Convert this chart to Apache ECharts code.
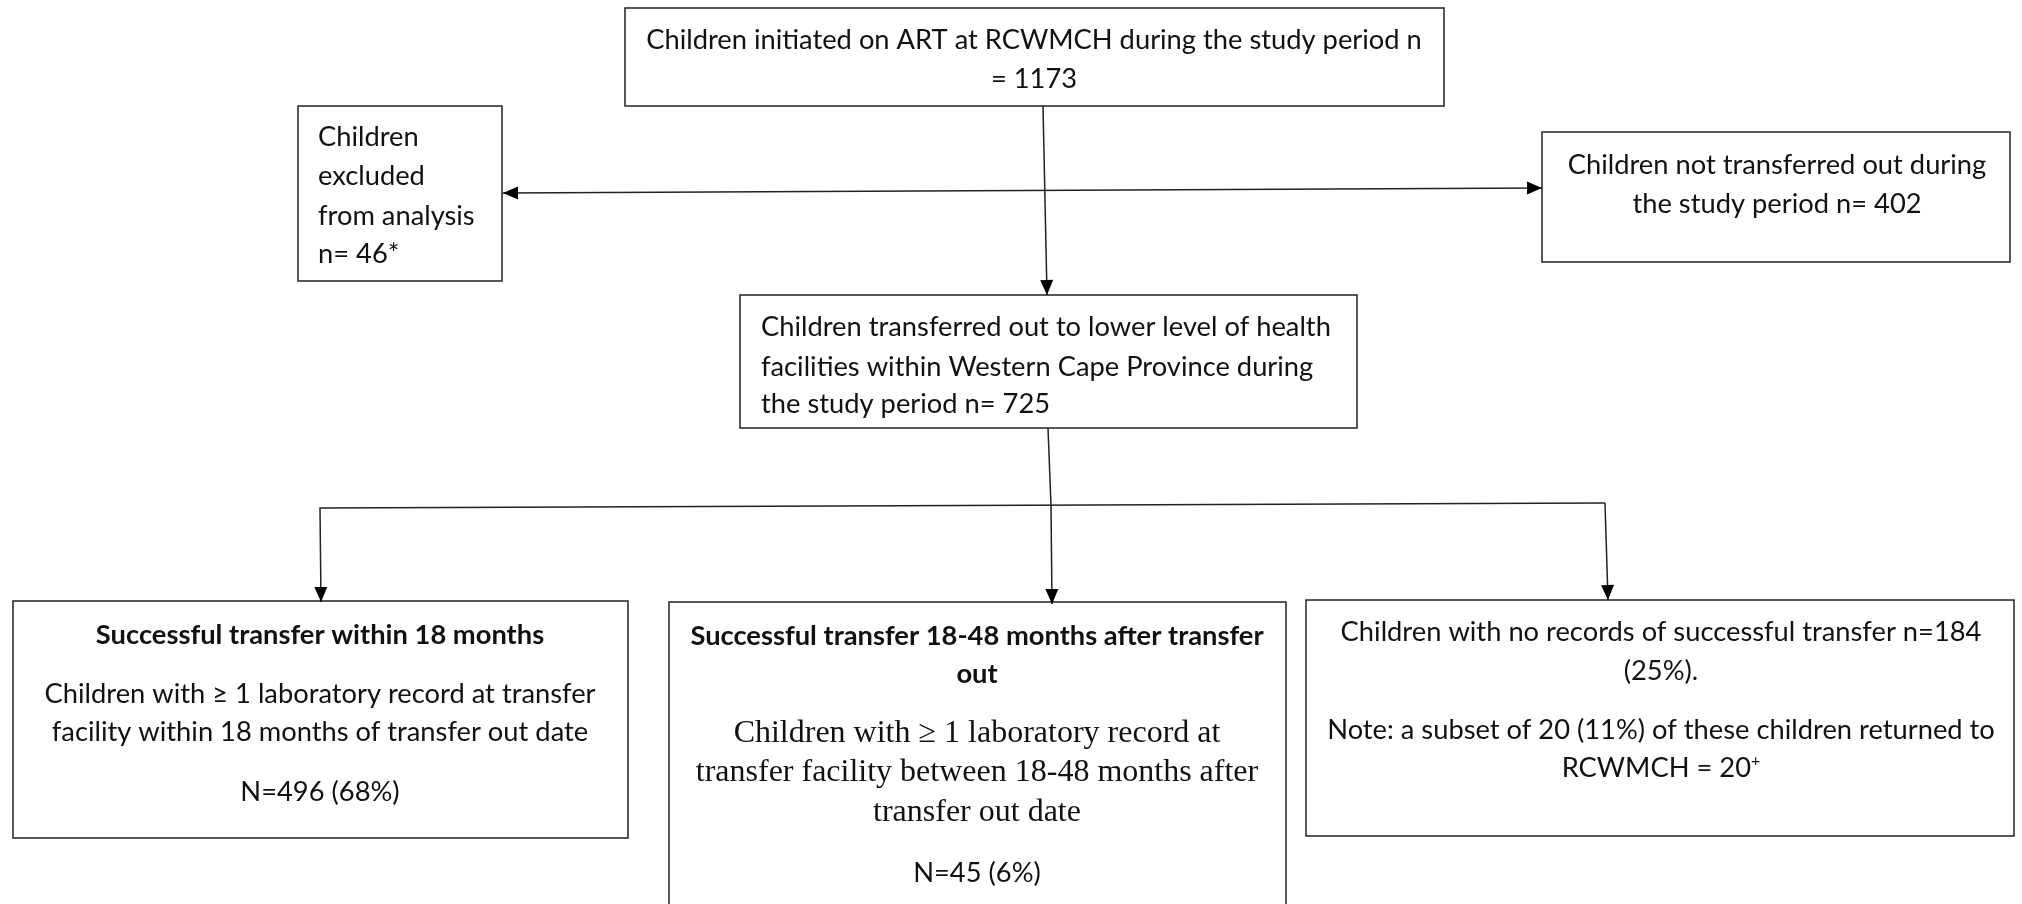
<!DOCTYPE html>
<html>
<head>
<meta charset="utf-8">
<script src="https://cdn.jsdelivr.net/npm/echarts@6/dist/echarts.min.js"></script>
<style>
  html, body { margin: 0; background: #fff; }
  #chart { width: 2022px; height: 904px; }
</style>
</head>
<body>
<div id="chart"></div>
<script>
// box texts (one entry per printed line)
const initiatedLines = ['Children initiated on ART at RCWMCH during the study period n', '= 1173'];
const excludedLines = ['Children', 'excluded', 'from analysis', 'n= 46*'];
const notTransferredLines = ['Children not transferred out during', 'the study period n= 402'];
const transferredLines = ['Children transferred out to lower level of health', 'facilities within Western Cape Province during', 'the study period n= 725'];
const within18Title = ['Successful transfer within 18 months'];
const within18Lines = ['Children with \u2265 1 laboratory record at transfer', 'facility within 18 months of transfer out date'];
const within18Count = ['N=496 (68%)'];
const late18Title = ['Successful transfer 18-48 months after transfer', 'out'];
const late18Lines = ['Children with \u2265 1 laboratory record at', 'transfer facility between 18-48 months after', 'transfer out date'];
const late18Count = ['N=45 (6%)'];
const noRecordLines = ['Children with no records of successful transfer n=184', '(25%).', 'Note: a subset of 20 (11%) of these children returned to', '{n|RCWMCH = 20}{sup|+}'];

const SANS = 'Lato, "Open Sans", sans-serif';
const SERIF = '"Liberation Serif", "DejaVu Serif", serif';
const INK = '#111';
const FS = 27.3;
const DY = 3;

const chart = echarts.init(document.getElementById('chart'));
const els = [];

function box(x0, y0, x1, y1) {
  els.push({
    type: 'rect',
    shape: { x: x0, y: y0, width: x1 - x0, height: y1 - y0 },
    style: { fill: '#fff', stroke: '#222', lineWidth: 1.5 }
  });
}

function lines(list, x, ys, opts) {
  list.forEach((t, i) => {
    els.push({
      type: 'text',
      x: x, y: ys[i] + DY,
      z: 10,
      style: {
        text: t,
        fill: INK,
        font: (opts.bold ? 'bold ' : '') + opts.size + 'px ' + (opts.family || SANS),
        textAlign: opts.align || 'center',
        textVerticalAlign: 'middle',
        rich: {
          n: { fontSize: opts.size, fontFamily: SANS, fill: INK },
          sup: { fontSize: Math.round(opts.size * 0.6), fontFamily: SANS, fill: INK, verticalAlign: 'top', padding: [0, 0, 14, 0] }
        }
      }
    });
  });
}

function head(x1, y1, x2, y2) {
  const len = 15, half = 6.5;
  const dx = x2 - x1, dy = y2 - y1;
  const d = Math.sqrt(dx * dx + dy * dy);
  const ux = dx / d, uy = dy / d;
  const bx = x2 - ux * len, by = y2 - uy * len;
  els.push({
    type: 'polygon',
    z: 5,
    shape: { points: [[x2, y2], [bx - uy * half, by + ux * half], [bx + uy * half, by - ux * half]] },
    style: { fill: '#000' }
  });
}

function seg(pts, heads) {
  els.push({
    type: 'polyline',
    z: 4,
    shape: { points: pts },
    style: { stroke: '#222', lineWidth: 1.5, fill: null }
  });
  if (heads.end) {
    const n = pts.length;
    head(pts[n - 2][0], pts[n - 2][1], pts[n - 1][0], pts[n - 1][1]);
  }
  if (heads.start) {
    head(pts[1][0], pts[1][1], pts[0][0], pts[0][1]);
  }
}

// connectors
seg([[1043, 106], [1047, 295]], { end: true });
seg([[503, 193], [1542, 188]], { start: true, end: true });
seg([[1048, 428], [1051, 505]], {});
seg([[1605, 503], [320, 508], [321, 602]], { end: true });
seg([[1051, 505], [1052, 604]], { end: true });
seg([[1605, 503], [1608, 600]], { end: true });

// boxes
box(625, 8, 1444, 106);
lines(initiatedLines, 1034, [37, 76], { size: FS });

box(298, 106, 502, 281);
lines(excludedLines, 318, [134, 173, 213, 251], { size: FS, align: 'left' });

box(1542, 132, 2010, 262);
lines(notTransferredLines, 1777, [162, 201], { size: FS });

box(740, 295, 1357, 428);
lines(transferredLines, 761, [324, 364, 401], { size: FS, align: 'left' });

box(13, 601, 628, 838);
lines(within18Title, 320, [632], { size: FS, bold: true });
lines(within18Lines, 320, [691, 729], { size: FS });
lines(within18Count, 320, [789], { size: FS });

box(669, 602, 1286, 912);
lines(late18Title, 977, [633, 671], { size: FS, bold: true });
lines(late18Lines, 977, [731, 770, 810], { size: 32, family: SERIF });
lines(late18Count, 977, [870], { size: FS });

box(1306, 600, 2014, 836);
lines(noRecordLines, 1661, [629, 668, 727, 765], { size: FS });

chart.setOption({
  backgroundColor: '#fff',
  animation: false,
  graphic: { elements: els }
});
</script>
</body>
</html>
